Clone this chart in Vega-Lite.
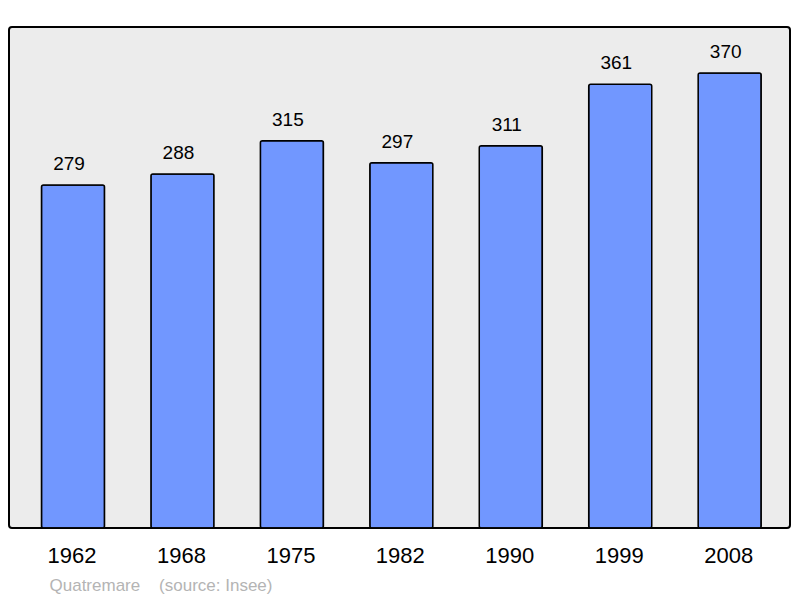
{
  "$schema": "https://vega.github.io/schema/vega-lite/v6.json",
  "width": 781,
  "height": 501,
  "autosize": {"type": "none"},
  "padding": {"left": 9, "top": 27, "right": 10, "bottom": 70},
  "background": "#ffffff",
  "config": {
    "view": {"fill": "#ececec", "stroke": "#000000", "strokeWidth": 2, "cornerRadius": 3},
    "font": "Liberation Sans"
  },
  "data": {
    "values": [
      {"year": "1962", "pop": 279},
      {"year": "1968", "pop": 288},
      {"year": "1975", "pop": 315},
      {"year": "1982", "pop": 297},
      {"year": "1990", "pop": 311},
      {"year": "1999", "pop": 361},
      {"year": "2008", "pop": 370}
    ]
  },
  "encoding": {
    "x": {
      "field": "year",
      "type": "nominal",
      "sort": null,
      "scale": {"paddingInner": 0.424, "paddingOuter": 0.28, "align": 0.53},
      "axis": {
        "title": "Quatremare\u00a0\u00a0\u00a0 (source: Insee)",
        "titleFont": "Liberation Sans",
        "titleFontSize": 17,
        "titleFontWeight": "normal",
        "titleColor": "#b4b4b4",
        "titleAnchor": "start",
        "titleAlign": "left",
        "titleBaseline": "alphabetic",
        "titleX": 40,
        "titleY": 62,
        "labelAngle": 0,
        "labelFont": "Liberation Sans",
        "labelFontSize": 22,
        "labelColor": "#000000",
        "labelPadding": 17,
        "labelOffset": -1,
        "domain": false,
        "ticks": false,
        "grid": false
      }
    },
    "y": {
      "field": "pop",
      "type": "quantitative",
      "scale": {"domain": [0, 407.5], "nice": false},
      "axis": null
    }
  },
  "layer": [
    {
      "mark": {"type": "bar", "fill": "#7197ff", "stroke": "#000000", "strokeWidth": 1.5, "cornerRadius": 2}
    },
    {
      "mark": {"type": "text", "baseline": "alphabetic", "dy": -15, "dx": -4, "fontSize": 19, "font": "Liberation Sans", "color": "#000000"},
      "encoding": {"text": {"field": "pop", "type": "quantitative"}}
    }
  ]
}
